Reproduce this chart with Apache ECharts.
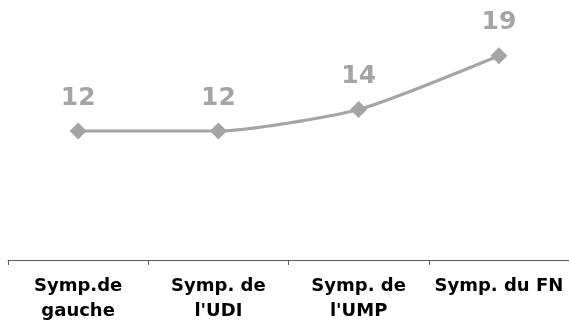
<!DOCTYPE html>
<html><head><meta charset="utf-8">
<script src="https://cdn.jsdelivr.net/npm/echarts@6/dist/echarts.min.js"></script>
<style>html,body{margin:0;padding:0;background:#fff}#c{width:569px;height:326px}</style>
</head><body><div id="c"></div>
<script>
const categories = ["Symp.de\ngauche", "Symp. de\nl'UDI", "Symp. de\nl'UMP", "Symp. du FN"];
const values = [12, 12, 14, 19];

const chart = echarts.init(document.getElementById('c'), null, {renderer: 'canvas'});
chart.setOption({
  animation: false,
  grid: {left: 8, right: 0, top: 45, bottom: 66, containLabel: false},
  xAxis: {
    type: 'category', data: categories, boundaryGap: true,
    axisLine: {lineStyle: {color: '#595959', width: 1}},
    axisTick: {show: true, length: 5, lineStyle: {color: '#595959'}},
    axisLabel: {color: '#000', fontFamily: 'DejaVu Sans', fontWeight: 'bold', fontSize: 18, lineHeight: 25, margin: 14, interval: 0}
  },
  yAxis: {type: 'value', min: 0, max: 20, show: false, splitLine: {show: false}},
  series: [{
    type: 'line', data: values, smooth: 0.2,
    symbol: 'diamond', symbolSize: 17,
    lineStyle: {color: '#a5a5a5', width: 3},
    itemStyle: {color: '#a5a5a5'},
    label: {show: true, position: 'top', distance: 12, color: '#a5a5a5', fontFamily: 'DejaVu Sans', fontWeight: 'bold', fontSize: 25}
  }]
});
</script></body></html>
